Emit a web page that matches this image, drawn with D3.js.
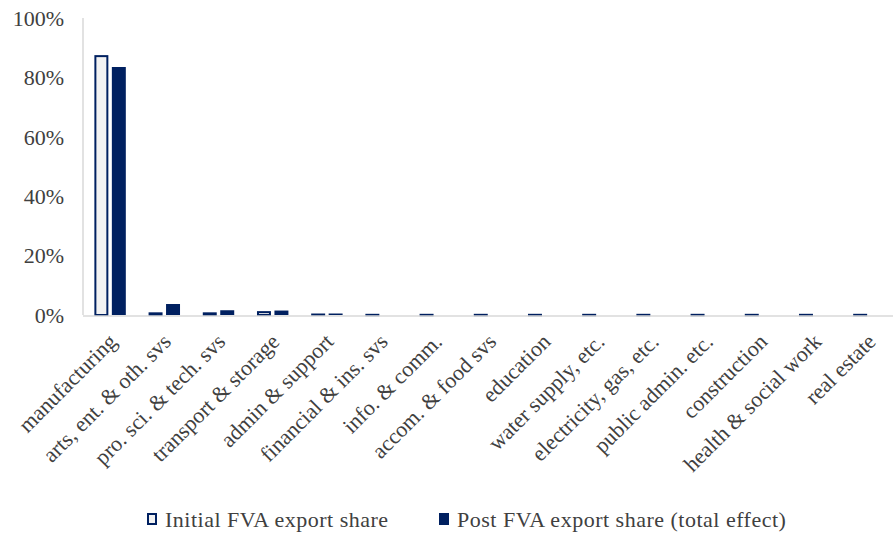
<!DOCTYPE html>
<html lang="en">
<head>
<meta charset="utf-8">
<title>FVA export share</title>
<script src="https://cdn.jsdelivr.net/npm/d3@7"></script>
<style>
  body { margin: 0; background: #fff; }
  text { font-family: "Liberation Serif", "DejaVu Serif", serif; fill: #404040; }
</style>
</head>
<body>
<script>
var sectors = ["manufacturing", "arts, ent. & oth. svs", "pro. sci. & tech. svs", "transport & storage",
  "admin & support", "financial & ins. svs", "info. & comm.", "accom. & food svs", "education",
  "water supply, etc.", "electricity, gas, etc.", "public admin. etc.", "construction",
  "health & social work", "real estate"];
var initialShare = [87.5, 0.9, 0.9, 1.3, 0.5, 0.4, 0.4, 0.4, 0.4, 0.4, 0.4, 0.4, 0.4, 0.4, 0.4];
var postShare = [83.5, 3.7, 1.6, 1.5, 0.5, 0, 0, 0, 0, 0, 0, 0, 0, 0, 0];
var yTicks = [0, 20, 40, 60, 80, 100];
var seriesNames = ["Initial FVA export share", "Post FVA export share (total effect)"];

var w = 893, h = 540;
var margin = {top: 18, right: 0, bottom: 225, left: 83};
var navy = "#002060";

var svg = d3.select("body").append("svg")
  .attr("width", w)
  .attr("height", h);

var x = d3.scaleBand()
  .domain(sectors)
  .range([margin.left, margin.left + 15 * 54.2])
  .paddingInner(0.42)
  .paddingOuter(0.21);

var x1 = d3.scaleBand()
  .domain([0, 1])
  .range([0, x.bandwidth()])
  .paddingInner(0.2);

var y = d3.scaleLinear()
  .domain([0, 100])
  .range([h - margin.bottom, margin.top]);

// y tick labels
svg.selectAll(".ytick")
  .data(yTicks)
  .enter()
  .append("text")
  .attr("class", "ytick")
  .attr("x", 64)
  .attr("y", function(d) { return y(d); })
  .attr("dy", "0.35em")
  .attr("text-anchor", "end")
  .attr("font-size", 22)
  .text(function(d) { return d + "%"; });

// bars
var groups = svg.selectAll(".grp")
  .data(sectors)
  .enter()
  .append("g")
  .attr("transform", function(d) { return "translate(" + x(d) + ",0)"; });

groups.append("rect")
  .attr("x", x1(0) + 1)
  .attr("y", function(d, i) { return y(initialShare[i]) + 1; })
  .attr("width", x1.bandwidth() - 2)
  .attr("height", function(d, i) { return Math.max(0.5, y(0) - y(initialShare[i]) - 1); })
  .attr("fill", "#f2f2f2")
  .attr("stroke", navy)
  .attr("stroke-width", 2);

groups.filter(function(d, i) { return postShare[i] > 0; })
  .append("rect")
  .attr("x", x1(1))
  .attr("y", function(d) { return y(postShare[sectors.indexOf(d)]); })
  .attr("width", x1.bandwidth())
  .attr("height", function(d) { return y(0) - y(postShare[sectors.indexOf(d)]); })
  .attr("fill", navy);

// axis lines
svg.append("line")
  .attr("x1", margin.left).attr("x2", margin.left)
  .attr("y1", margin.top).attr("y2", y(0))
  .attr("stroke", "#d9d9d9").attr("stroke-width", 1.5);
svg.append("line")
  .attr("x1", margin.left).attr("x2", w)
  .attr("y1", y(0) + 1).attr("y2", y(0) + 1)
  .attr("stroke", "#d9d9d9").attr("stroke-width", 1.5);

// category labels
svg.selectAll(".xlab")
  .data(sectors)
  .enter()
  .append("text")
  .attr("class", "xlab")
  .attr("text-anchor", "end")
  .attr("font-size", 22)
  .attr("transform", function(d) {
    return "translate(" + (x(d) + x.bandwidth() / 2 + 8) + "," + (y(0) + 28) + ") rotate(-45)";
  })
  .text(function(d) { return d; });

// legend
var legend = svg.append("g").attr("transform", "translate(0,519)");
var legX = [147, 439];
seriesNames.forEach(function(name, i) {
  legend.append("rect")
    .attr("x", legX[i] + (i === 0 ? 1 : 0))
    .attr("y", -6 + (i === 0 ? 1 : 0))
    .attr("width", i === 0 ? 8 : 10)
    .attr("height", i === 0 ? 10 : 12)
    .attr("fill", i === 0 ? "#f2f2f2" : navy)
    .attr("stroke", i === 0 ? navy : "none")
    .attr("stroke-width", 2);
  legend.append("text")
    .attr("x", legX[i] + 18)
    .attr("y", 0)
    .attr("dy", "0.35em")
    .attr("font-size", 22)
    .attr("letter-spacing", 0.5)
    .attr("fill", "#262626")
    .text(name);
});
</script>
</body>
</html>
